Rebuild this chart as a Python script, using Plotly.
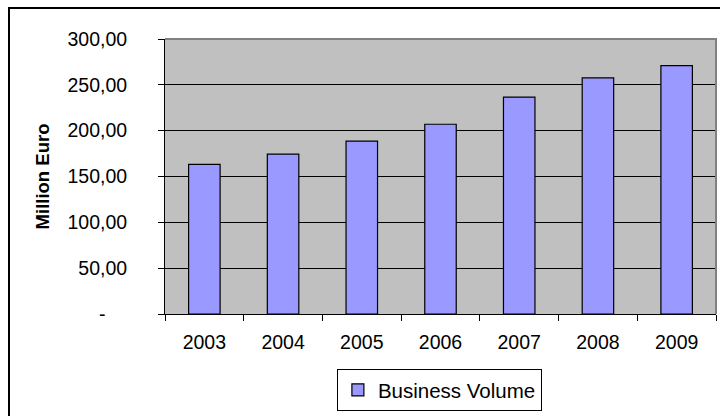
import plotly.graph_objects as go

years = ["2003", "2004", "2005", "2006", "2007", "2008", "2009"]
business_volume = [163.3, 174.5, 188.7, 207.0, 236.7, 257.5, 270.9]
y_tick_vals = [0, 50, 100, 150, 200, 250, 300]
y_tick_text = ["-\u00a0\u00a0\u00a0\u00a0", "50,00", "100,00", "150,00", "200,00", "250,00", "300,00"]

FONT = "Liberation Sans, Arial, sans-serif"
FS = 19.5

# plot area pixel geometry
L, R, T, B = 165, 716, 39, 314
W, H = 720, 416
pw, ph = R - L, B - T

def px(x):
    return (x - L) / pw

def py(y):
    return (B - y) / ph

fig = go.Figure()
fig.add_trace(go.Bar(
    x=years, y=business_volume, name="Business Volume",
    marker=dict(color="#9999FF", line=dict(color="#000000", width=1.2)),
    width=0.4,
))

fig.update_layout(
    width=W, height=H, autosize=False,
    margin=dict(l=L, r=W - R, t=T, b=H - B, pad=0),
    paper_bgcolor="white", plot_bgcolor="#C0C0C0",
    font=dict(family=FONT, size=FS, color="black"),
    showlegend=True,
    legend=dict(
        orientation="h", x=0.498, xanchor="center", y=py(411), yanchor="bottom",
        bordercolor="black", borderwidth=1, bgcolor="white",
        font=dict(family=FONT, size=20.5, color="black"),
        itemwidth=30,
    ),
    bargap=0.6,
)

fig.update_xaxes(
    type="category", showgrid=False, zeroline=False,
    showline=True, linecolor="black", linewidth=1,
    ticks="outside", tickson="boundaries", ticklen=6, tickcolor="black",
    tickfont=dict(family=FONT, size=FS, color="black"),
    ticklabelstandoff=11,
)
fig.update_yaxes(
    range=[0, 300], tickvals=y_tick_vals, ticktext=y_tick_text,
    showgrid=True, gridcolor="black", gridwidth=1, zeroline=False,
    showline=True, linecolor="black", linewidth=1,
    ticks="outside", ticklen=6, tickcolor="black",
    tickfont=dict(family=FONT, size=FS, color="black"),
    ticklabelstandoff=27,
    title=dict(text="<b>Million Euro</b>", font=dict(family=FONT, size=18.5, color="black"), standoff=12),
)

# plot area border (top and right, gray)
fig.add_shape(type="path", xref="paper", yref="paper",
              path="M 0,1 L 1,1 L 1,0", line=dict(color="#808080", width=2), layer="above")
# chart area border
fig.add_shape(type="rect", xref="paper", yref="paper",
              x0=px(9), x1=px(760), y0=py(440), y1=py(8),
              line=dict(color="black", width=2), fillcolor="rgba(0,0,0,0)", layer="below")

fig.write_html("out.html", config={"displayModeBar": False},
               post_script="document.body.style.margin='0';document.body.style.overflow='hidden';")
